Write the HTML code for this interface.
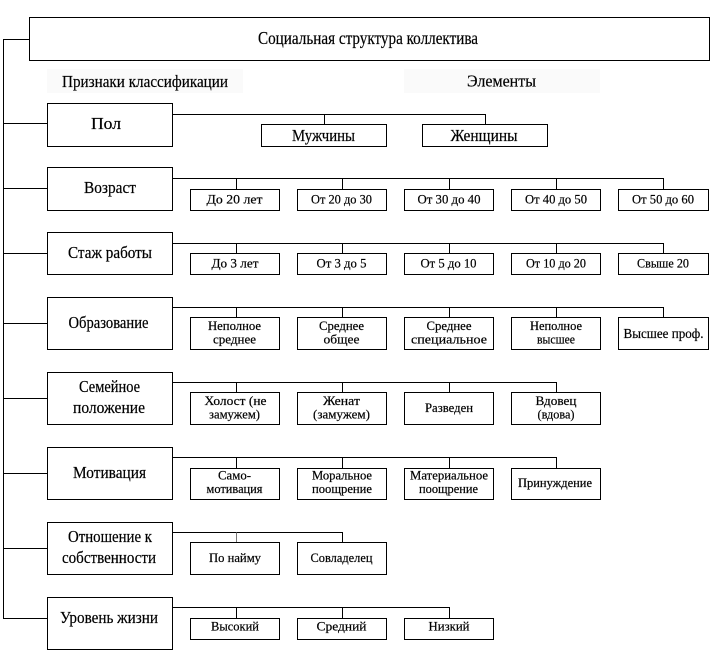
<!DOCTYPE html>
<html><head><meta charset="utf-8"><style>
html,body{margin:0;padding:0;background:#fff;}
svg{display:block;}
text{font-family:"Liberation Serif","Noto Serif CJK SC",serif;fill:#000;text-anchor:middle;stroke:#000;stroke-width:0.2;}
.t{font-size:18px}.c{font-size:17px}.s{font-size:13px}.m{font-size:14px}
</style></head><body>
<svg width="722" height="656" viewBox="0 0 722 656" xmlns="http://www.w3.org/2000/svg">
<g fill="none" stroke="#000" stroke-width="1">
<rect x="29.5" y="17.5" width="680" height="43"/>
<line x1="3.5" y1="39" x2="3.5" y2="618.5"/>
<line x1="3" y1="39.5" x2="29" y2="39.5"/>
<line x1="3" y1="123.5" x2="47" y2="123.5"/>
<line x1="3" y1="188.5" x2="47" y2="188.5"/>
<line x1="3" y1="253.5" x2="47" y2="253.5"/>
<line x1="3" y1="323.5" x2="47" y2="323.5"/>
<line x1="3" y1="398.5" x2="47" y2="398.5"/>
<line x1="3" y1="473.5" x2="47" y2="473.5"/>
<line x1="3" y1="548.5" x2="47" y2="548.5"/>
<line x1="3" y1="618.5" x2="47" y2="618.5"/>
<rect x="47.5" y="103.5" width="125" height="43"/>
<rect x="47.5" y="167.5" width="125" height="43"/>
<rect x="47.5" y="232.5" width="125" height="42"/>
<rect x="47.5" y="297.5" width="125" height="52"/>
<rect x="47.5" y="372.5" width="125" height="52"/>
<rect x="47.5" y="447.5" width="125" height="52"/>
<rect x="47.5" y="522.5" width="125" height="52"/>
<rect x="47.5" y="597.5" width="125" height="52"/>
<polyline points="172,114.5 485.5,114.5 485.5,124"/>
<line x1="324.5" y1="114.5" x2="324.5" y2="124"/>
<rect x="261.5" y="124.5" width="125" height="22"/>
<rect x="422.5" y="124.5" width="125" height="22"/>
<polyline points="172,178.5 663.5,178.5 663.5,189"/>
<line x1="236.5" y1="178.5" x2="236.5" y2="189"/>
<line x1="342.5" y1="178.5" x2="342.5" y2="189"/>
<line x1="449.5" y1="178.5" x2="449.5" y2="189"/>
<line x1="556.5" y1="178.5" x2="556.5" y2="189"/>
<rect x="190.5" y="189.5" width="89" height="21"/>
<rect x="297.5" y="189.5" width="89" height="21"/>
<rect x="404.5" y="189.5" width="89" height="21"/>
<rect x="511.5" y="189.5" width="89" height="21"/>
<rect x="618.5" y="189.5" width="90" height="21"/>
<polyline points="172,243.5 663.5,243.5 663.5,253"/>
<line x1="236.5" y1="243.5" x2="236.5" y2="253"/>
<line x1="342.5" y1="243.5" x2="342.5" y2="253"/>
<line x1="449.5" y1="243.5" x2="449.5" y2="253"/>
<line x1="556.5" y1="243.5" x2="556.5" y2="253"/>
<rect x="190.5" y="253.5" width="89" height="21"/>
<rect x="297.5" y="253.5" width="89" height="21"/>
<rect x="404.5" y="253.5" width="89" height="21"/>
<rect x="511.5" y="253.5" width="89" height="21"/>
<rect x="618.5" y="253.5" width="90" height="21"/>
<polyline points="172,307.5 663.5,307.5 663.5,317"/>
<line x1="236.5" y1="307.5" x2="236.5" y2="317"/>
<line x1="342.5" y1="307.5" x2="342.5" y2="317"/>
<line x1="449.5" y1="307.5" x2="449.5" y2="317"/>
<line x1="556.5" y1="307.5" x2="556.5" y2="317"/>
<rect x="190.5" y="317.5" width="89" height="32"/>
<rect x="297.5" y="317.5" width="89" height="32"/>
<rect x="404.5" y="317.5" width="89" height="32"/>
<rect x="511.5" y="317.5" width="89" height="32"/>
<rect x="618.5" y="317.5" width="90" height="32"/>
<polyline points="172,382.5 556.5,382.5 556.5,392"/>
<line x1="236.5" y1="382.5" x2="236.5" y2="392"/>
<line x1="342.5" y1="382.5" x2="342.5" y2="392"/>
<line x1="449.5" y1="382.5" x2="449.5" y2="392"/>
<rect x="190.5" y="392.5" width="89" height="32"/>
<rect x="297.5" y="392.5" width="89" height="32"/>
<rect x="404.5" y="392.5" width="89" height="32"/>
<rect x="511.5" y="392.5" width="89" height="32"/>
<polyline points="172,457.5 556.5,457.5 556.5,468"/>
<line x1="236.5" y1="457.5" x2="236.5" y2="468"/>
<line x1="342.5" y1="457.5" x2="342.5" y2="468"/>
<line x1="449.5" y1="457.5" x2="449.5" y2="468"/>
<rect x="190.5" y="468.5" width="89" height="31"/>
<rect x="297.5" y="468.5" width="89" height="31"/>
<rect x="404.5" y="468.5" width="89" height="31"/>
<rect x="511.5" y="468.5" width="89" height="31"/>
<polyline points="172,532.5 342.5,532.5 342.5,542"/>
<line x1="236.5" y1="532.5" x2="236.5" y2="542" stroke="#777"/>
<rect x="190.5" y="542.5" width="89" height="32"/>
<rect x="297.5" y="542.5" width="89" height="32"/>
<polyline points="172,607.5 449.5,607.5 449.5,618"/>
<line x1="236.5" y1="607.5" x2="236.5" y2="618"/>
<line x1="342.5" y1="607.5" x2="342.5" y2="618"/>
<rect x="190.5" y="618.5" width="89" height="21"/>
<rect x="297.5" y="618.5" width="89" height="21"/>
<rect x="404.5" y="618.5" width="89" height="21"/>
</g>
<rect x="47" y="69" width="196" height="24" fill="#fafafa"/>
<rect x="404" y="69" width="196" height="24" fill="#fafafa"/>

<text class="t" x="368" y="44" textLength="220" lengthAdjust="spacingAndGlyphs">Социальная структура коллектива</text>
<text class="c" x="145" y="87" textLength="166" lengthAdjust="spacingAndGlyphs">Признаки классификации</text>
<text class="c" x="501.5" y="86.5" textLength="69" lengthAdjust="spacingAndGlyphs">Элементы</text>

<text class="c" x="106" y="129" textLength="30" lengthAdjust="spacingAndGlyphs">Пол</text>
<text class="c" x="110" y="193" textLength="52" lengthAdjust="spacingAndGlyphs">Возраст</text>
<text class="c" x="110" y="258" textLength="84" lengthAdjust="spacingAndGlyphs">Стаж работы</text>
<text class="c" x="108.5" y="328" textLength="80" lengthAdjust="spacingAndGlyphs">Образование</text>
<text class="c" x="109.5" y="392" textLength="61" lengthAdjust="spacingAndGlyphs">Семейное</text>
<text class="c" x="109" y="413" textLength="72" lengthAdjust="spacingAndGlyphs">положение</text>
<text class="c" x="109.5" y="478" textLength="73" lengthAdjust="spacingAndGlyphs">Мотивация</text>
<text class="c" x="110" y="542" textLength="84" lengthAdjust="spacingAndGlyphs">Отношение к</text>
<text class="c" x="109" y="563" textLength="94" lengthAdjust="spacingAndGlyphs">собственности</text>
<text class="c" x="109" y="623" textLength="98" lengthAdjust="spacingAndGlyphs">Уровень жизни</text>

<text class="c" x="323.5" y="141" textLength="63" lengthAdjust="spacingAndGlyphs">Мужчины</text>
<text class="c" x="484" y="141" textLength="67" lengthAdjust="spacingAndGlyphs">Женщины</text>

<text class="s" x="234.5" y="203.5" textLength="56" lengthAdjust="spacingAndGlyphs">До 20 лет</text>
<text class="s" x="341.5" y="203.5" textLength="61" lengthAdjust="spacingAndGlyphs">От 20 до 30</text>
<text class="s" x="449" y="203.5" textLength="63" lengthAdjust="spacingAndGlyphs">От 30 до 40</text>
<text class="s" x="556" y="203.5" textLength="62" lengthAdjust="spacingAndGlyphs">От 40 до 50</text>
<text class="s" x="663" y="203.5" textLength="62" lengthAdjust="spacingAndGlyphs">От 50 до 60</text>

<text class="s" x="235" y="267.5" textLength="47" lengthAdjust="spacingAndGlyphs">До 3 лет</text>
<text class="s" x="341.5" y="267.5" textLength="50" lengthAdjust="spacingAndGlyphs">От 3 до 5</text>
<text class="s" x="448.5" y="267.5" textLength="56" lengthAdjust="spacingAndGlyphs">От 5 до 10</text>
<text class="s" x="556" y="267.5" textLength="60" lengthAdjust="spacingAndGlyphs">От 10 до 20</text>
<text class="s" x="663" y="267.5" textLength="52" lengthAdjust="spacingAndGlyphs">Свыше 20</text>

<text class="s" x="234.5" y="330" textLength="53" lengthAdjust="spacingAndGlyphs">Неполное</text>
<text class="s" x="234.5" y="343.5" textLength="43" lengthAdjust="spacingAndGlyphs">среднее</text>
<text class="s" x="341.5" y="330" textLength="45" lengthAdjust="spacingAndGlyphs">Среднее</text>
<text class="s" x="341.5" y="343.5" textLength="36" lengthAdjust="spacingAndGlyphs">общее</text>
<text class="s" x="449" y="330" textLength="45" lengthAdjust="spacingAndGlyphs">Среднее</text>
<text class="s" x="449" y="343.5" textLength="76" lengthAdjust="spacingAndGlyphs">специальное</text>
<text class="s" x="556" y="330" textLength="52" lengthAdjust="spacingAndGlyphs">Неполное</text>
<text class="s" x="556" y="343.5" textLength="38" lengthAdjust="spacingAndGlyphs">высшее</text>
<text class="m" x="663.5" y="338" textLength="80" lengthAdjust="spacingAndGlyphs">Высшее проф.</text>

<text class="s" x="235.5" y="405" textLength="62" lengthAdjust="spacingAndGlyphs">Холост (не</text>
<text class="s" x="234.5" y="418.5" textLength="51" lengthAdjust="spacingAndGlyphs">замужем)</text>
<text class="s" x="341.5" y="405" textLength="37" lengthAdjust="spacingAndGlyphs">Женат</text>
<text class="s" x="341.5" y="418.5" textLength="57" lengthAdjust="spacingAndGlyphs">(замужем)</text>
<text class="s" x="449" y="412" textLength="48" lengthAdjust="spacingAndGlyphs">Разведен</text>
<text class="s" x="556" y="405" textLength="41" lengthAdjust="spacingAndGlyphs">Вдовец</text>
<text class="s" x="556" y="418.5" textLength="37" lengthAdjust="spacingAndGlyphs">(вдова)</text>

<text class="s" x="234.5" y="479.5" textLength="33" lengthAdjust="spacingAndGlyphs">Само-</text>
<text class="s" x="234.5" y="493" textLength="56" lengthAdjust="spacingAndGlyphs">мотивация</text>
<text class="s" x="342" y="479.5" textLength="60" lengthAdjust="spacingAndGlyphs">Моральное</text>
<text class="s" x="342" y="493" textLength="60" lengthAdjust="spacingAndGlyphs">поощрение</text>
<text class="s" x="449" y="479.5" textLength="78" lengthAdjust="spacingAndGlyphs">Материальное</text>
<text class="s" x="448.5" y="493" textLength="59" lengthAdjust="spacingAndGlyphs">поощрение</text>
<text class="s" x="555" y="487" textLength="74" lengthAdjust="spacingAndGlyphs">Принуждение</text>

<text class="s" x="235" y="562" textLength="52" lengthAdjust="spacingAndGlyphs">По найму</text>
<text class="s" x="341.5" y="562" textLength="62" lengthAdjust="spacingAndGlyphs">Совладелец</text>

<text class="s" x="235" y="630.5" textLength="48" lengthAdjust="spacingAndGlyphs">Высокий</text>
<text class="s" x="341.5" y="630.5" textLength="50" lengthAdjust="spacingAndGlyphs">Средний</text>
<text class="s" x="449" y="630.5" textLength="41" lengthAdjust="spacingAndGlyphs">Низкий</text>
</svg>
</body></html>
